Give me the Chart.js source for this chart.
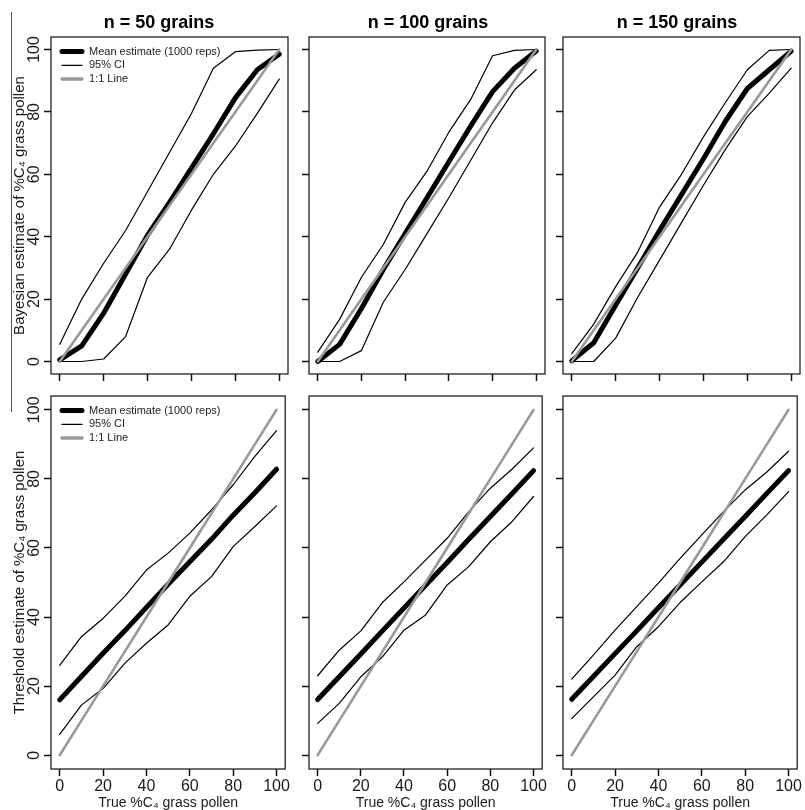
<!DOCTYPE html>
<html><head><meta charset="utf-8">
<script src="https://cdn.jsdelivr.net/npm/chart.js@4"></script>
<style>
html,body{margin:0;padding:0;background:#fff;}
#wrap{position:relative;width:805px;height:810px;overflow:hidden;background:#fff;}
canvas{position:absolute;}
#edge{position:absolute;left:11px;top:12px;width:1px;height:400px;background:#555;}
</style></head><body><div id="wrap"><div id="edge"></div></div>
<script>
// ---------- data ----------
const trueC4 = [0, 10, 20, 30, 40, 50, 60, 70, 80, 90, 100];
const oneToOneLine = [0, 10, 20, 30, 40, 50, 60, 70, 80, 90, 100];
const tickValues = [0, 20, 40, 60, 80, 100];
const panelTitles = ['n = 50 grains', 'n = 100 grains', 'n = 150 grains'];
const rowTitles = ['Bayesian estimate of %C\u2084 grass pollen', 'Threshold estimate of %C\u2084 grass pollen'];
const xTitle = 'True %C\u2084 grass pollen';
const legendLabels = ['Mean estimate (1000 reps)', '95% CI', '1:1 Line'];

// Bayesian estimates
const bayesMean50  = [0.5, 5, 15.5, 28, 40.5, 51, 62, 73, 84.5, 93.5, 98.5];
const bayesUpper50 = [5.5, 20, 31.5, 42, 54.5, 67, 79.5, 94, 99.3, 99.8, 100];
const bayesLower50 = [0, 0, 0.8, 8, 27, 36, 48.5, 60, 69, 79.5, 90.5];
const bayesMean100  = [0, 5.5, 17, 29.5, 41, 52.5, 64, 75.5, 86.5, 94, 99.5];
const bayesUpper100 = [3, 13.5, 27, 37.5, 51, 61, 73.5, 84, 98, 99.7, 100];
const bayesLower100 = [0, 0, 3.5, 19, 29.5, 41, 52.5, 64.5, 76.5, 87, 93.5];
const bayesMean150  = [0.2, 6, 18, 30, 42, 53.5, 65, 77, 87.5, 93.5, 99.5];
const bayesUpper150 = [2.5, 12, 24, 35, 49.5, 60, 72, 83, 93.5, 99.7, 100];
const bayesLower150 = [0, 0, 7.5, 20.5, 32.5, 44.5, 56.5, 68, 78.5, 86, 94];

// Threshold estimates
const threshMean50  = [16, 22.8, 29.5, 36, 42.8, 49.5, 56, 62.5, 69.5, 76, 82.8];
const threshUpper50 = [26, 34.3, 39.6, 46, 53.6, 58.5, 64.3, 71, 78.3, 86.5, 94];
const threshLower50 = [6, 14.5, 19.3, 26.6, 32.4, 37.7, 46, 51.7, 60.4, 66.2, 72.2];
const threshMean100  = [16.1, 22.7, 29.3, 36, 42.6, 49.2, 55.8, 62.5, 69.1, 75.7, 82.4];
const threshUpper100 = [23, 30.4, 36, 44.2, 50.2, 56.5, 62.8, 70.5, 77.3, 82.8, 89];
const threshLower100 = [9.2, 15, 22.7, 28.5, 36.2, 40.6, 49.3, 54.6, 61.8, 67.6, 74.9];
const threshMean150  = [16.2, 22.8, 29.4, 36, 42.7, 49.3, 55.9, 62.5, 69.1, 75.8, 82.4];
const threshUpper150 = [22, 29, 36.2, 43, 49.8, 57, 63.8, 70.5, 76.8, 82, 88];
const threshLower150 = [10.6, 16.9, 23.2, 31.4, 37.2, 44.2, 50.2, 56, 63.3, 69.6, 76.3];

const panelSeries = [
  [{mean: bayesMean50, upper: bayesUpper50, lower: bayesLower50},
   {mean: bayesMean100, upper: bayesUpper100, lower: bayesLower100},
   {mean: bayesMean150, upper: bayesUpper150, lower: bayesLower150}],
  [{mean: threshMean50, upper: threshUpper50, lower: threshLower50},
   {mean: threshMean100, upper: threshUpper100, lower: threshLower100},
   {mean: threshMean150, upper: threshUpper150, lower: threshLower150}]
];

// ---------- layout ----------
const FONT = '"Liberation Sans", Arial, Helvetica, sans-serif';
const TXT = '#1a1a1a';
const boxX = [[51, 288], [309, 545], [563, 800]];
const boxY = [[37, 374], [396, 769]];
const rowCanvasTop = [0, 384];
const rowBottomSpace = [14, 41];
const titleCenterX = [159, 428, 677];
const wrap = document.getElementById('wrap');

function makePanel(r, c) {
  const series = panelSeries[r][c];
  const L = c === 0 ? 51 : 12;
  const [bl, br] = boxX[c];
  const [bt, bb] = boxY[r];
  const canvasTop = rowCanvasTop[r];
  const padTop = bt - canvasTop;
  const B = rowBottomSpace[r];
  const canvasLeft = bl - L;
  const W = L + (br - bl) + 3;
  const H = padTop + (bb - bt) + B;
  const cv = document.createElement('canvas');
  cv.width = W; cv.height = H;
  cv.style.left = canvasLeft + 'px'; cv.style.top = canvasTop + 'px';
  cv.style.width = W + 'px'; cv.style.height = H + 'px';
  wrap.appendChild(cv);

  const pts = arr => trueC4.map((x, i) => ({x: x, y: arr[i]}));
  const common = {pointRadius: 0, pointHoverRadius: 0, fill: false, tension: 0,
                  borderCapStyle: 'round', borderJoinStyle: 'round'};
  const datasets = [
    Object.assign({label: legendLabels[0], data: pts(series.mean), borderColor: '#000', borderWidth: 5, order: 1, legendRank: 0, legendWidth: 5}, common),
    Object.assign({label: legendLabels[1], data: pts(series.upper), borderColor: '#000', borderWidth: 1.2, order: 2, legendRank: 1, legendWidth: 1.3}, common),
    Object.assign({label: legendLabels[1], data: pts(series.lower), borderColor: '#000', borderWidth: 1.2, order: 2, hideInLegend: true}, common),
    Object.assign({label: legendLabels[2], data: pts(oneToOneLine), borderColor: '#999', borderWidth: 2.6, order: 0, legendRank: 2, legendWidth: 3.5}, common)
  ];

  const setTicks = s => { s.ticks = tickValues.map(v => ({value: v})); };
  const gridOpts = {display: true, drawOnChartArea: false, drawTicks: true, tickLength: 7, tickWidth: 1.5, tickColor: '#111'};

  const deco = {
    id: 'deco' + r + c,
    afterDraw(chart) {
      const ctx = chart.ctx;
      const a = chart.chartArea;
      ctx.save();
      // plot box
      ctx.strokeStyle = '#222';
      ctx.lineWidth = 1.3;
      ctx.strokeRect(a.left, a.top, a.right - a.left, a.bottom - a.top);
      // rotated y tick labels (first column)
      if (c === 0) {
        const ys = chart.scales.y;
        ctx.font = '16px ' + FONT;
        ctx.fillStyle = TXT;
        ctx.textAlign = 'center';
        ctx.textBaseline = 'middle';
        tickValues.forEach(v => {
          const py = ys.getPixelForValue(v);
          ctx.save();
          ctx.translate(a.left - 16, py);
          ctx.rotate(-Math.PI / 2);
          ctx.fillText(String(v), 0, 0);
          ctx.restore();
        });
        // legend
        const items = chart.data.datasets.filter(d => !d.hideInLegend).sort((p, q) => p.legendRank - q.legendRank);
        ctx.font = '11px ' + FONT;
        ctx.textAlign = 'left';
        items.forEach((d, i) => {
          const y = a.top + 14.5 + i * 13.8;
          ctx.strokeStyle = d.borderColor;
          ctx.lineWidth = d.legendWidth;
          ctx.lineCap = 'round';
          ctx.beginPath();
          ctx.moveTo(a.left + 11, y);
          ctx.lineTo(a.left + 31, y);
          ctx.stroke();
          ctx.fillStyle = '#222';
          ctx.fillText(d.label, a.left + 38, y);
        });
      }
      // column titles
      if (r === 0) {
        ctx.font = 'bold 18px ' + FONT;
        ctx.fillStyle = '#000';
        ctx.textAlign = 'center';
        ctx.textBaseline = 'alphabetic';
        ctx.fillText(panelTitles[c], titleCenterX[c] - canvasLeft, 28);
      }
      ctx.restore();
    }
  };

  new Chart(cv, {
    type: 'line',
    data: {datasets: datasets},
    plugins: [deco],
    options: {
      responsive: false,
      animation: false,
      devicePixelRatio: 1,
      layout: {padding: {top: padTop, left: 0, right: 3, bottom: 0}},
      plugins: {legend: {display: false}, tooltip: {enabled: false}, title: {display: false}},
      scales: {
        x: {
          type: 'linear', min: -4, max: 104,
          afterBuildTicks: setTicks,
          afterFit: s => { s.height = B; },
          grid: gridOpts,
          border: {display: false},
          ticks: {display: r === 1, font: {family: FONT, size: 16}, color: TXT, padding: 1, maxRotation: 0, minRotation: 0, autoSkip: false},
          title: {display: r === 1, text: xTitle, font: {family: FONT, size: 14, lineHeight: 1}, color: TXT, padding: {top: 0, bottom: 0}}
        },
        y: {
          type: 'linear', min: -4, max: 104,
          afterBuildTicks: setTicks,
          afterFit: s => { s.width = L; },
          grid: gridOpts,
          border: {display: false},
          ticks: {display: false},
          title: {display: c === 0, text: rowTitles[r], font: {family: FONT, size: 15, lineHeight: 1}, color: TXT, padding: {top: 12, bottom: 0}}
        }
      }
    }
  });
}

for (let r = 0; r < 2; r++) for (let c = 0; c < 3; c++) makePanel(r, c);
</script>
</body></html>
